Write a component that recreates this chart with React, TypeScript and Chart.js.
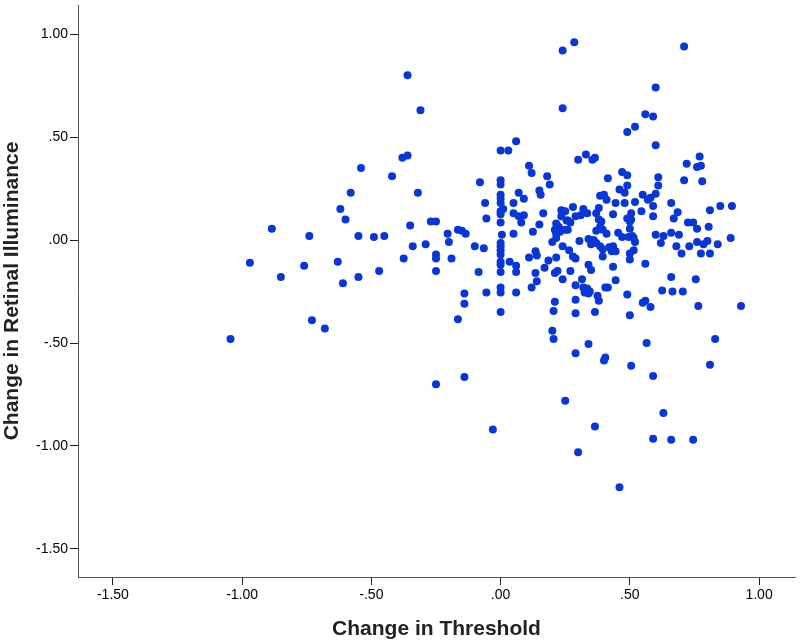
import React, { useEffect, useRef } from "react";
import { Chart, registerables } from "chart.js";

Chart.register(...registerables);

const xTitle = "Change in Threshold";
const yTitle = "Change in Retinal Illuminance";
const tickValues = [-1.5, -1.0, -0.5, 0.0, 0.5, 1.0];

// Change in Threshold (x) values
const thresholdChange = [
  -0.38, -0.36, -0.54, -0.42, -0.58, -0.32, -0.62, -0.6, -0.885, -0.74, -0.55, -0.49, -0.45, -0.35, -0.27, -0.25, -0.205, -0.2, -0.34, -0.29, -0.25, -0.25, -0.19, -0.375, -0.25, -0.97, -0.76, -0.63, -0.85, -0.55, -0.47, -0.61, -0.73, -0.68, -1.045, -0.36, -0.31, -0.25,
  0.24, 0.24, 0.06, 0.0, 0.03, 0.11, 0.12, 0.18, 0.19, -0.08, 0.0, 0.0,
  0.07, 0.15, 0.155, 0.0, 0.0, 0.0, 0.09, -0.06, 0.05, 0.01, 0.0, 0.0, 0.05, 0.07, 0.09, 0.08, 0.165, 0.15, 0.0, -0.055, 0.235, 0.25, 0.26, 0.235, 0.215, 0.225, 0.21, 0.23, 0.215, 0.26, 0.215, 0.2, 0.24, 0.265, 0.125, 0.05, 0.005, -0.165, -0.15, -0.135, -0.1, -0.065, 0.0, 0.0, 0.0, 0.0, 0.0, 0.0, 0.0, 0.035, 0.06, 0.06, -0.085, 0.11, 0.135, 0.14, 0.185, 0.17, 0.215, 0.22, 0.21, 0.24, 0.135, 0.14, 0.12, 0.0,
  -0.14, -0.14, -0.165, -0.055, 0.0, 0.0, 0.06, 0.21, 0.205, 0.2, 0.205, -0.14, 0.25, -0.03,
  0.285, 0.71, 0.6, 0.56, 0.59, 0.52, 0.49, 0.6, 0.33, 0.3, 0.355, 0.365, 0.72, 0.47, 0.49, 0.415, 0.61, 0.71, 0.49, 0.61, 0.46,
  0.77, 0.76, 0.775, 0.78,
  0.48, 0.55, 0.6, 0.58, 0.57, 0.385, 0.4, 0.41, 0.445, 0.48, 0.52, 0.59, 0.66, 0.28, 0.32, 0.335, 0.31, 0.29, 0.38, 0.37, 0.435, 0.545, 0.505, 0.49, 0.505, 0.5, 0.685, 0.59, 0.67, 0.725, 0.255, 0.27, 0.25, 0.38, 0.39, 0.385, 0.37, 0.395, 0.5, 0.41, 0.455, 0.47, 0.495, 0.51, 0.52, 0.515, 0.305, 0.34, 0.36, 0.35, 0.37, 0.385, 0.395, 0.42, 0.435, 0.43, 0.445, 0.395, 0.29, 0.28, 0.515, 0.5, 0.5, 0.56, 0.6, 0.63, 0.66, 0.69, 0.62, 0.68, 0.7, 0.34, 0.35, 0.435, 0.27, 0.315, 0.445, 0.66,
  0.29, 0.32, 0.335, 0.345, 0.325, 0.34, 0.405, 0.415, 0.375, 0.38, 0.29, 0.49, 0.29, 0.365, 0.5, 0.55, 0.56, 0.58, 0.625, 0.665, 0.705, 0.34, 0.29, 0.405, 0.4, 0.565, 0.505, 0.59, 0.365, 0.63, 0.59, 0.66, 0.3, 0.46,
  0.765, 0.93, 0.83, 0.81, 0.745,
  0.81, 0.85, 0.895, 0.745, 0.76, 0.805, 0.76, 0.785, 0.8, 0.73, 0.84, 0.89, 0.775, 0.81, 0.755,
];

// Change in Retinal Illuminance (y) values
const illuminanceChange = [
  0.4, 0.41, 0.35, 0.31, 0.23, 0.23, 0.15, 0.1, 0.055, 0.02, 0.02, 0.015, 0.02, 0.07, 0.09, 0.09, 0.03, -0.01, -0.03, -0.02, -0.07, -0.09, -0.09, -0.09, -0.15, -0.11, -0.125, -0.105, -0.18, -0.18, -0.15, -0.21, -0.39, -0.43, -0.48, 0.8, 0.63, -0.7,
  0.92, 0.64, 0.48, 0.435, 0.435, 0.36, 0.325, 0.31, 0.27, 0.28, 0.29, 0.27,
  0.23, 0.24, 0.22, 0.22, 0.2, 0.18, 0.2, 0.18, 0.18, 0.15, 0.14, 0.125, 0.13, 0.115, 0.12, 0.085, 0.13, 0.075, 0.085, 0.105, 0.145, 0.14, 0.095, 0.115, 0.08, 0.065, 0.05, 0.04, 0.03, 0.05, 0.01, -0.01, -0.03, -0.05, 0.04, 0.03, 0.025, 0.05, 0.045, 0.03, -0.03, -0.04, -0.015, -0.03, -0.05, -0.07, -0.105, -0.12, -0.155, -0.105, -0.125, -0.155, -0.155, -0.085, -0.055, -0.075, -0.1, -0.135, -0.085, -0.15, -0.16, -0.19, -0.16, -0.2, -0.23, -0.23,
  -0.26, -0.31, -0.385, -0.255, -0.255, -0.35, -0.255, -0.3, -0.345, -0.44, -0.48, -0.665, -0.78, -0.92,
  0.96, 0.94, 0.74, 0.61, 0.6, 0.55, 0.525, 0.46, 0.415, 0.39, 0.39, 0.4, 0.37, 0.33, 0.315, 0.3, 0.305, 0.29, 0.265, 0.265, 0.245,
  0.405, 0.355, 0.36, 0.285,
  0.23, 0.22, 0.225, 0.205, 0.195, 0.215, 0.22, 0.195, 0.18, 0.18, 0.185, 0.165, 0.18, 0.16, 0.15, 0.13, 0.12, 0.115, 0.155, 0.13, 0.125, 0.14, 0.13, 0.105, 0.1, 0.09, 0.135, 0.115, 0.105, 0.085, 0.095, 0.085, 0.05, 0.1, 0.09, 0.065, 0.045, 0.05, 0.055, 0.03, 0.035, 0.015, 0.015, 0.02, -0.01, 0.01, -0.005, 0.005, 0.0, -0.02, -0.015, -0.03, -0.045, -0.035, -0.03, -0.055, -0.055, -0.08, -0.09, -0.08, -0.05, -0.065, -0.095, -0.115, 0.025, 0.02, 0.035, 0.025, -0.015, -0.03, -0.065, -0.12, -0.145, -0.13, -0.15, -0.19, -0.195, -0.18,
  -0.22, -0.23, -0.235, -0.25, -0.255, -0.26, -0.23, -0.23, -0.27, -0.295, -0.29, -0.265, -0.355, -0.35, -0.365, -0.305, -0.295, -0.325, -0.245, -0.25, -0.25, -0.505, -0.55, -0.57, -0.585, -0.5, -0.61, -0.66, -0.905, -0.84, -0.965, -0.97, -1.03, -1.2,
  -0.32, -0.32, -0.48, -0.605, -0.97,
  0.145, 0.165, 0.165, 0.085, 0.055, 0.065, -0.01, -0.02, -0.005, -0.03, -0.02, 0.01, -0.065, -0.065, -0.19,
];

const fmt = (v: number): string => {
  const s = Math.abs(v).toFixed(2).replace(/^0/, "");
  return (v < 0 ? "-" : "") + s;
};

export default function App() {
  const ref = useRef<HTMLCanvasElement | null>(null);

  useEffect(() => {
    document.body.style.margin = "0";
    const canvas = ref.current;
    if (!canvas) return;
    const points = thresholdChange.map((x, i) => ({ x, y: illuminanceChange[i] }));
    const axisColor = "#555555";
    const fontFamily = "Liberation Sans, Arial, sans-serif";
    const chart = new Chart(canvas, {
      type: "scatter",
      data: {
        datasets: [
          {
            data: points,
            backgroundColor: "#0a36d2",
            borderColor: "#0a36d2",
            borderWidth: 0,
            pointRadius: 4,
            pointHoverRadius: 4,
          },
        ],
      },
      options: {
        animation: false,
        responsive: false,
        devicePixelRatio: 1,
        layout: { padding: { top: 5, right: 5, left: 0, bottom: 0 } },
        plugins: { legend: { display: false }, tooltip: { enabled: false } },
        scales: {
          x: {
            type: "linear",
            min: -1.635,
            max: 1.139,
            afterBuildTicks: (s: any) => {
              s.ticks = tickValues.map((v) => ({ value: v }));
            },
            afterFit: (s: any) => {
              s.height = 65;
              s.paddingLeft = 0;
              s.paddingRight = 0;
            },
            border: { display: true, color: axisColor, width: 1 },
            grid: { display: true, drawOnChartArea: false, drawTicks: true, tickLength: 8, color: "#222222" },
            ticks: {
              color: "#000000",
              font: { family: fontFamily, size: 14 },
              padding: 2,
              maxRotation: 0,
              callback: (v: any) => fmt(Number(v)),
            },
            title: {
              display: true,
              text: xTitle,
              color: "#222222",
              font: { family: fontFamily, size: 21, weight: "bold" },
              padding: { top: 4, bottom: 0 },
            },
          },
          y: {
            type: "linear",
            min: -1.636,
            max: 1.141,
            afterBuildTicks: (s: any) => {
              s.ticks = tickValues.map((v) => ({ value: v }));
            },
            afterFit: (s: any) => {
              s.width = 78;
              s.paddingTop = 0;
              s.paddingBottom = 0;
            },
            border: { display: true, color: axisColor, width: 1 },
            grid: { display: true, drawOnChartArea: false, drawTicks: true, tickLength: 8, color: "#222222" },
            ticks: {
              color: "#000000",
              font: { family: fontFamily, size: 14 },
              padding: 2,
              callback: (v: any) => fmt(Number(v)),
            },
            title: {
              display: true,
              text: yTitle,
              color: "#222222",
              font: { family: fontFamily, size: 21, weight: "bold" },
              padding: { top: 0, bottom: 2 },
            },
          },
        },
      },
    });
    return () => chart.destroy();
  }, []);

  return (
    <div style={{ width: 800, height: 642 }}>
      <canvas ref={ref} width={800} height={642} style={{ display: "block", width: 800, height: 642 }} />
    </div>
  );
}
